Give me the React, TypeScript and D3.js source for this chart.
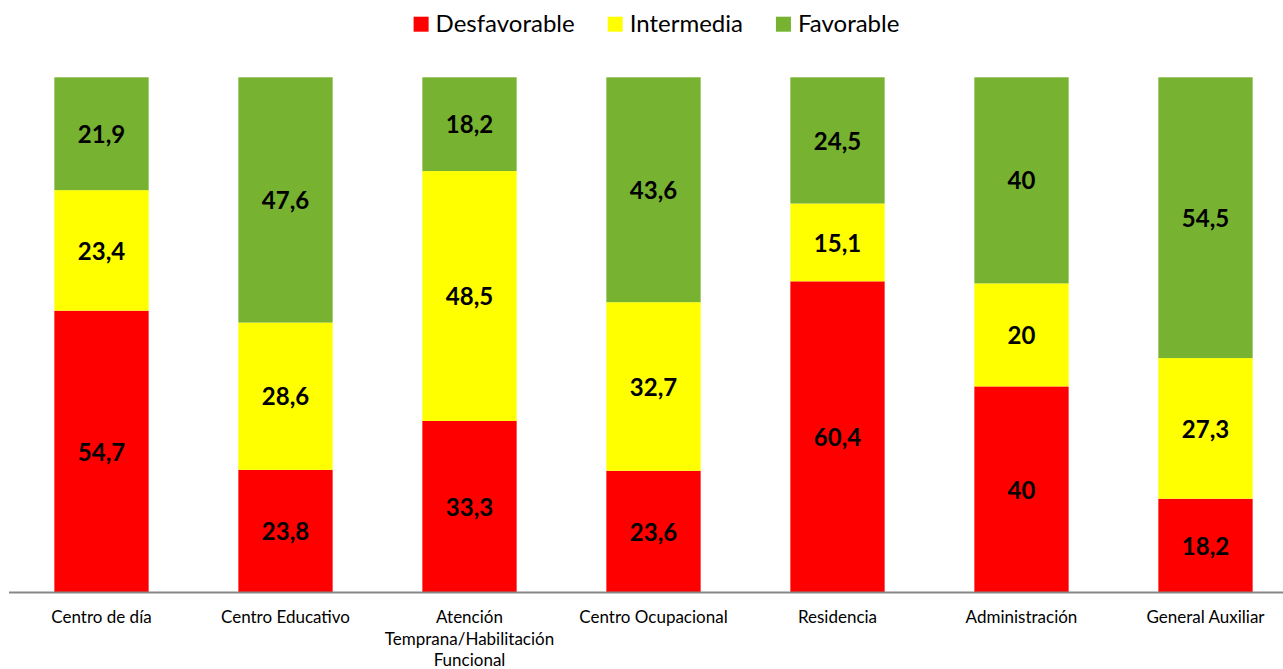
import React, { useEffect, useRef } from "react";
import * as d3 from "d3";

// Categories shown along the x axis
const categories = [
  "Centro de día",
  "Centro Educativo",
  "Atención Temprana/Habilitación Funcional",
  "Centro Ocupacional",
  "Residencia",
  "Administración",
  "General Auxiliar",
];

// Percentage of each level per category
const desfavorable = [54.7, 23.8, 33.3, 23.6, 60.4, 40, 18.2];
const intermedia = [23.4, 28.6, 48.5, 32.7, 15.1, 20, 27.3];
const favorable = [21.9, 47.6, 18.2, 43.6, 24.5, 40, 54.5];

const seriesNames = ["Desfavorable", "Intermedia", "Favorable"];
const seriesColors = ["#FF0000", "#FFFF00", "#77B230"];

const W = 1283;
const H = 669;
const FONT = "Lato, 'Open Sans', sans-serif";

export default function App() {
  const ref = useRef<SVGSVGElement | null>(null);

  useEffect(() => {
    const svg = d3.select(ref.current);
    svg.selectAll("*").remove();

    const rows = categories.map((c, i) => ({
      cat: c,
      Desfavorable: desfavorable[i],
      Intermedia: intermedia[i],
      Favorable: favorable[i],
    }));

    const stack = d3
      .stack<any>()
      .keys(seriesNames)
      .offset(d3.stackOffsetExpand);
    const layers = stack(rows);

    const step = 184;
    const x0 = 9.5;
    const x = d3
      .scaleBand<string>()
      .domain(categories)
      .range([x0, x0 + step * categories.length])
      .paddingInner(0.4875)
      .paddingOuter(0.24375);

    const y = d3.scaleLinear().domain([0, 1]).range([592.5, 77.3]);

    const color = d3.scaleOrdinal<string, string>().domain(seriesNames).range(seriesColors);

    // Stacked bars
    const g = svg.append("g");
    layers.forEach((layer) => {
      const key = layer.key;
      const lg = g.append("g").attr("fill", color(key));
      lg.selectAll("rect")
        .data(layer)
        .join("rect")
        .attr("x", (d: any) => x(d.data.cat)!)
        .attr("width", x.bandwidth())
        .attr("y", (d: any) => y(d[1]))
        .attr("height", (d: any) => y(d[0]) - y(d[1]));

      // Value labels in the middle of each segment
      lg.selectAll("text")
        .data(layer)
        .join("text")
        .attr("x", (d: any) => x(d.data.cat)! + x.bandwidth() / 2)
        .attr("y", (d: any) => (y(d[0]) + y(d[1])) / 2)
        .attr("dy", "0.38em")
        .attr("text-anchor", "middle")
        .attr("fill", "#000")
        .attr("font-family", FONT)
        .attr("font-weight", "bold")
        .attr("font-size", 24)
        .text((d: any) => String(d.data[key]).replace(".", ","));
    });

    // Baseline axis
    svg
      .append("line")
      .attr("x1", 9)
      .attr("x2", W)
      .attr("y1", y(0))
      .attr("y2", y(0))
      .attr("stroke", "#878787")
      .attr("stroke-width", 1.8);

    // Category labels, wrapped to the band step
    const labelG = svg.append("g");
    categories.forEach((c) => {
      const t = labelG
        .append("text")
        .attr("text-anchor", "middle")
        .attr("font-family", FONT)
        .attr("font-size", 17)
        .attr("fill", "#000");
      const cx = x(c)! + x.bandwidth() / 2;
      const words = c.split(" ");
      const lines: string[] = [];
      let cur = "";
      const probe = t.append("tspan");
      words.forEach((w) => {
        const tryLine = cur ? cur + " " + w : w;
        probe.text(tryLine);
        const len = (probe.node() as SVGTextContentElement).getComputedTextLength();
        if (len > step - 8 && cur) {
          lines.push(cur);
          cur = w;
        } else {
          cur = tryLine;
        }
      });
      lines.push(cur);
      probe.remove();
      lines.forEach((ln, i) => {
        t.append("tspan")
          .attr("x", cx)
          .attr("y", 623 + i * 21.5)
          .text(ln);
      });
    });

    // Legend, centred above the plot
    const legend = svg.append("g");
    const sq = 15;
    const gapText = 7;
    const gapItem = 33;
    const items: { g: any; w: number }[] = [];
    seriesNames.forEach((s) => {
      const ig = legend.append("g");
      ig.append("rect")
        .attr("x", 0)
        .attr("y", 16.7)
        .attr("width", sq)
        .attr("height", sq)
        .attr("fill", color(s));
      const tx = ig
        .append("text")
        .attr("x", sq + gapText)
        .attr("y", 31.7)
        .attr("font-family", FONT)
        .attr("font-size", 24)
        .attr("fill", "#000")
        .text(s);
      const tw = (tx.node() as SVGTextContentElement).getComputedTextLength();
      items.push({ g: ig, w: sq + gapText + tw });
    });
    const total = items.reduce((a, b) => a + b.w, 0) + gapItem * (items.length - 1);
    let lx = 656.5 - total / 2;
    items.forEach((it) => {
      it.g.attr("transform", `translate(${lx},0)`);
      lx += it.w + gapItem;
    });
  }, []);

  return (
    <svg
      ref={ref}
      width={W}
      height={H}
      style={{ position: "absolute", left: 0, top: 0, background: "#fff" }}
    />
  );
}
